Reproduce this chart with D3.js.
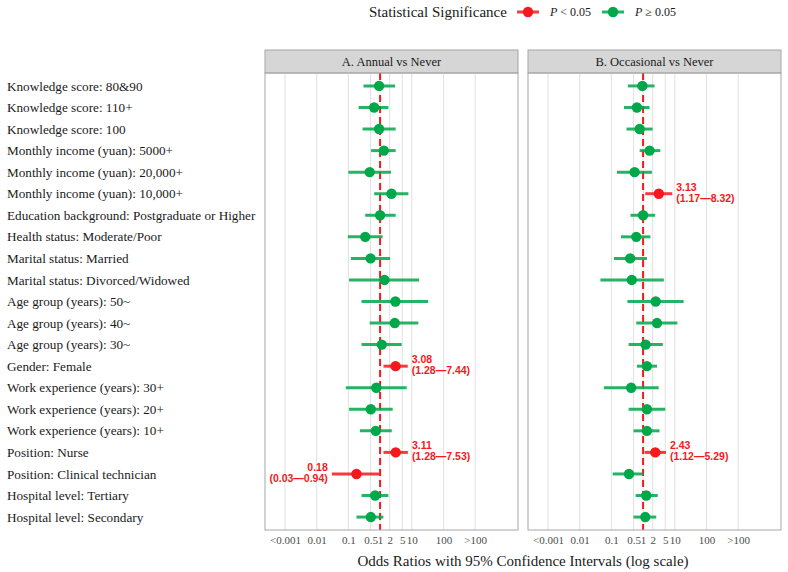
<!DOCTYPE html>
<html>
<head>
<meta charset="utf-8">
<script src="https://cdn.jsdelivr.net/npm/d3@7"></script>
<style>
  body { margin: 0; background: #fff; }
  svg { display: block; }
</style>
</head>
<body>
<div id="chart"></div>
<script>
// row labels, top to bottom
var labels = [
  "Knowledge score: 80&90",
  "Knowledge score: 110+",
  "Knowledge score: 100",
  "Monthly income (yuan): 5000+",
  "Monthly income (yuan): 20,000+",
  "Monthly income (yuan): 10,000+",
  "Education background: Postgraduate or Higher",
  "Health status: Moderate/Poor",
  "Marital status: Married",
  "Marital status: Divorced/Widowed",
  "Age group (years): 50~",
  "Age group (years): 40~",
  "Age group (years): 30~",
  "Gender: Female",
  "Work experience (years): 30+",
  "Work experience (years): 20+",
  "Work experience (years): 10+",
  "Position: Nurse",
  "Position: Clinical technician",
  "Hospital level: Tertiary",
  "Hospital level: Secondary"
];

var panels = ["A. Annual vs Never", "B. Occasional vs Never"];

// A. Annual vs Never
var orA = [0.93, 0.65, 0.93, 1.31, 0.47, 2.28, 1.00, 0.34, 0.50, 1.37, 3.04, 2.90, 1.13, 3.08, 0.76, 0.51, 0.73, 3.11, 0.18, 0.70, 0.51];
var loA = [0.30, 0.21, 0.28, 0.52, 0.10, 0.65, 0.34, 0.096, 0.12, 0.105, 0.26, 0.47, 0.26, 1.28, 0.083, 0.105, 0.23, 1.28, 0.03, 0.26, 0.18];
var hiA = [2.97, 1.83, 3.10, 3.10, 2.20, 7.80, 3.10, 1.20, 2.07, 17.0, 32.7, 16.0, 4.80, 7.44, 6.90, 2.50, 2.34, 7.53, 0.94, 1.83, 1.27];

// B. Occasional vs Never
var orB = [0.95, 0.64, 0.78, 1.60, 0.54, 3.13, 1.00, 0.61, 0.39, 0.44, 2.50, 2.75, 1.20, 1.32, 0.42, 1.32, 1.32, 2.43, 0.36, 1.26, 1.17];
var loB = [0.33, 0.25, 0.30, 0.78, 0.15, 1.17, 0.40, 0.20, 0.12, 0.045, 0.32, 0.61, 0.35, 0.64, 0.058, 0.35, 0.50, 1.12, 0.11, 0.58, 0.50];
var hiB = [2.30, 1.60, 2.00, 3.50, 1.90, 8.32, 2.40, 1.70, 1.32, 4.50, 19.0, 12.0, 4.20, 2.75, 3.10, 5.00, 3.30, 5.29, 1.02, 2.90, 2.60];

var tickValues = [0.001, 0.01, 0.1, 0.5, 1, 2, 5, 10, 100, 1000];
var tickLabels = ["<0.001", "0.01", "0.1", "0.5", "1", "2", "5", "10", "100", ">100"];

var RED = "#f5181c";
var GREEN = "#00a84a";
var serif = "'Liberation Serif', 'Times New Roman', serif";

var svg = d3.select("#chart").append("svg")
  .attr("width", 788)
  .attr("height", 572);

var panelTop = 73, panelBottom = 530;
var panelX = [[265, 518], [528, 781]];

var y = d3.scalePoint()
  .domain(labels)
  .range([panelTop, panelBottom])
  .padding(0.6);

// row labels
svg.append("g").selectAll("text")
  .data(labels)
  .enter()
  .append("text")
  .attr("x", 7)
  .attr("y", d => y(d))
  .attr("dy", "0.35em")
  .attr("font-family", serif)
  .attr("font-size", "13.2px")
  .attr("fill", "#1a1a1a")
  .text(d => d);

function buildRows(or, lo, hi) {
  return labels.map(function(l, i) {
    return { label: l, or: or[i], lo: lo[i], hi: hi[i], sig: lo[i] > 1 || hi[i] < 1 };
  });
}

var panelData = [buildRows(orA, loA, hiA), buildRows(orB, loB, hiB)];

panels.forEach(function(title, p) {
  var x0 = panelX[p][0], x1 = panelX[p][1];
  var x = d3.scaleLog()
    .domain([Math.pow(10, -3.63), Math.pow(10, 4.35)])
    .range([x0, x1]);

  var g = svg.append("g");

  // strip
  g.append("rect")
    .attr("x", x0).attr("y", 50)
    .attr("width", x1 - x0).attr("height", panelTop - 50)
    .attr("fill", "#d6d6d6")
    .attr("stroke", "#a6a6a6");
  g.append("text")
    .attr("x", (x0 + x1) / 2).attr("y", 62)
    .attr("dy", "0.35em")
    .attr("text-anchor", "middle")
    .attr("font-family", serif)
    .attr("font-size", "12.5px")
    .attr("fill", "#1a1a1a")
    .text(title);

  // grid lines
  g.append("g").selectAll("line")
    .data(tickValues)
    .enter()
    .append("line")
    .attr("x1", d => x(d)).attr("x2", d => x(d))
    .attr("y1", panelTop).attr("y2", panelBottom)
    .attr("stroke", "#e3e3e3")
    .attr("stroke-width", 1.1);

  // x axis labels (no ticks)
  var axis = d3.axisBottom(x)
    .tickValues(tickValues)
    .tickFormat((d, i) => tickLabels[i])
    .tickSize(0)
    .tickPadding(6);
  var ax = g.append("g")
    .attr("transform", `translate(0, ${panelBottom})`)
    .call(axis);
  ax.select(".domain").remove();
  ax.selectAll("text")
    .attr("font-family", serif)
    .attr("font-size", "11px")
    .attr("fill", "#4d4d4d");

  // reference line at OR = 1
  g.append("line")
    .attr("x1", x(1)).attr("x2", x(1))
    .attr("y1", panelTop).attr("y2", panelBottom)
    .attr("stroke", RED)
    .attr("stroke-width", 2)
    .attr("stroke-dasharray", "7,4");

  var rows = panelData[p];

  // confidence intervals
  g.append("g").selectAll("line")
    .data(rows)
    .enter()
    .append("line")
    .attr("x1", d => x(d.lo)).attr("x2", d => x(d.hi))
    .attr("y1", d => y(d.label)).attr("y2", d => y(d.label))
    .attr("stroke", d => d.sig ? RED : GREEN)
    .attr("stroke-width", 3)
    .attr("opacity", 0.85);

  // points
  g.append("g").selectAll("circle")
    .data(rows)
    .enter()
    .append("circle")
    .attr("cx", d => x(d.or))
    .attr("cy", d => y(d.label))
    .attr("r", 5.2)
    .attr("fill", d => d.sig ? RED : GREEN);

  // labels for significant rows
  var sigRows = rows.filter(d => d.sig);
  var lab = g.append("g").selectAll("text")
    .data(sigRows)
    .enter()
    .append("text")
    .attr("font-family", "'Liberation Sans', Arial, sans-serif")
    .attr("font-weight", "bold")
    .attr("font-size", "10.5px")
    .attr("fill", RED)
    .attr("text-anchor", d => d.or > 1 ? "start" : "end");
  lab.append("tspan")
    .attr("x", d => d.or > 1 ? x(d.hi) + 4 : x(d.lo) - 4)
    .attr("y", d => y(d.label) - 3)
    .text(d => d.or.toFixed(2));
  lab.append("tspan")
    .attr("x", d => d.or > 1 ? x(d.hi) + 4 : x(d.lo) - 4)
    .attr("y", d => y(d.label) + 8)
    .text(d => "(" + d.lo.toFixed(2) + "\u2014" + d.hi.toFixed(2) + ")");

  // panel border
  g.append("rect")
    .attr("x", x0).attr("y", panelTop)
    .attr("width", x1 - x0).attr("height", panelBottom - panelTop)
    .attr("fill", "none")
    .attr("stroke", "#a6a6a6");
});

// x axis title
svg.append("text")
  .attr("x", (panelX[0][0] + panelX[1][1]) / 2)
  .attr("y", 561)
  .attr("dy", "0.35em")
  .attr("text-anchor", "middle")
  .attr("font-family", serif)
  .attr("font-size", "15px")
  .attr("fill", "#1a1a1a")
  .text("Odds Ratios with 95% Confidence Intervals (log scale)");

// legend
var legend = svg.append("g");
legend.append("text")
  .attr("x", 369).attr("y", 12)
  .attr("dy", "0.35em")
  .attr("font-family", serif)
  .attr("font-size", "15px")
  .attr("fill", "#1a1a1a")
  .text("Statistical Significance");

var legendItems = [
  { color: RED, op: "<", cx: 528, tx: 550 },
  { color: GREEN, op: "\u2265", cx: 613, tx: 635 }
];
legendItems.forEach(function(it) {
  legend.append("line")
    .attr("x1", it.cx - 11).attr("x2", it.cx + 11)
    .attr("y1", 12).attr("y2", 12)
    .attr("stroke", it.color)
    .attr("stroke-width", 3)
    .attr("opacity", 0.85);
  legend.append("circle")
    .attr("cx", it.cx).attr("cy", 12)
    .attr("r", 5.2)
    .attr("fill", it.color);
  var t = legend.append("text")
    .attr("x", it.tx).attr("y", 12)
    .attr("dy", "0.35em")
    .attr("font-family", serif)
    .attr("font-size", "12px")
    .attr("fill", "#1a1a1a");
  t.append("tspan").attr("font-style", "italic").text("P");
  t.append("tspan").text(" " + it.op + " 0.05");
});
</script>
</body>
</html>
